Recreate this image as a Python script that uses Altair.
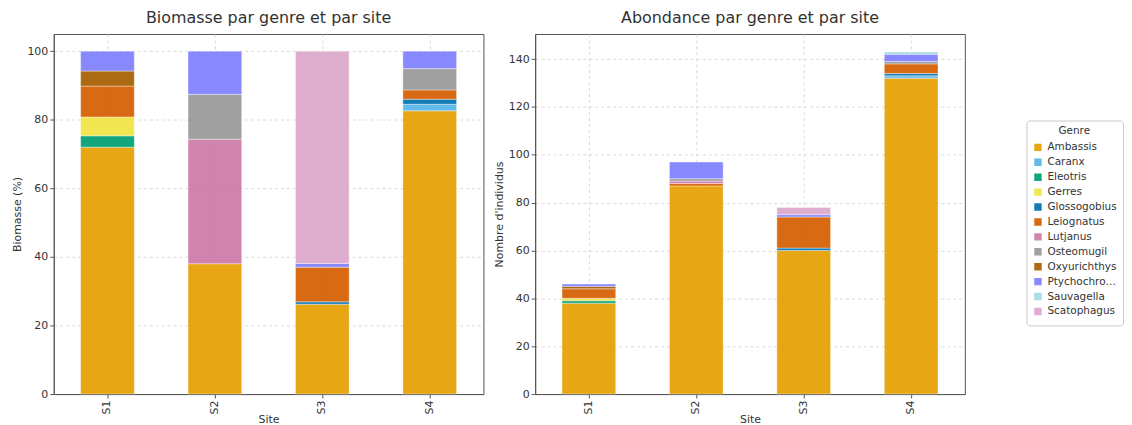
import altair as alt
import pandas as pd

sites = ["S1", "S2", "S3", "S4"]
genres = ["Ambassis", "Caranx", "Eleotris", "Gerres", "Glossogobius", "Leiognatus",
          "Lutjanus", "Osteomugil", "Oxyurichthys", "Ptychochromis", "Sauvagella", "Scatophagus"]
colors = ["#E69F00", "#56B4E9", "#009E73", "#F0E442", "#0072B2", "#D55E00",
          "#CC79A7", "#999999", "#A65E00", "#7F7FFF", "#A3DAE8", "#DDA8CC"]

# Biomass (%) per genre, across S1..S4
bio_ambassis = [72.0, 38.0, 26.2, 82.6]
bio_caranx = [0, 0, 0, 1.9]
bio_eleotris = [3.3, 0, 0, 0]
bio_gerres = [5.5, 0, 0, 0]
bio_glossogobius = [0, 0, 0.7, 1.5]
bio_leiognatus = [9.0, 0, 10.1, 2.7]
bio_lutjanus = [0, 36.3, 0, 0]
bio_osteomugil = [0, 13.1, 0, 6.2]
bio_oxyurichthys = [4.4, 0, 0, 0]
bio_ptychochromis = [5.8, 12.6, 1.1, 5.1]
bio_sauvagella = [0, 0, 0, 0]
bio_scatophagus = [0, 0, 61.9, 0]

# Abundance (individuals) per genre, across S1..S4
ab_ambassis = [38, 87, 60, 132]
ab_caranx = [0, 0, 0, 1]
ab_eleotris = [1, 0, 0, 0]
ab_gerres = [1, 0, 0, 0]
ab_glossogobius = [0, 0, 1, 1]
ab_leiognatus = [4, 1, 13, 4]
ab_lutjanus = [0, 1, 0, 0]
ab_osteomugil = [0, 1, 0, 1]
ab_oxyurichthys = [1, 0, 0, 0]
ab_ptychochromis = [1, 7, 1, 3]
ab_sauvagella = [0, 0, 0, 1]
ab_scatophagus = [0, 0, 3, 0]

bio = [bio_ambassis, bio_caranx, bio_eleotris, bio_gerres, bio_glossogobius, bio_leiognatus,
       bio_lutjanus, bio_osteomugil, bio_oxyurichthys, bio_ptychochromis, bio_sauvagella, bio_scatophagus]
ab = [ab_ambassis, ab_caranx, ab_eleotris, ab_gerres, ab_glossogobius, ab_leiognatus,
      ab_lutjanus, ab_osteomugil, ab_oxyurichthys, ab_ptychochromis, ab_sauvagella, ab_scatophagus]

rows = []
for gi, g in enumerate(genres):
    for si, s in enumerate(sites):
        rows.append({"Site": s, "Genre": g, "order": gi, "bio": bio[gi][si], "ab": ab[gi][si]})
df = pd.DataFrame(rows)

color = alt.Color("Genre:N", scale=alt.Scale(domain=genres, range=colors),
                  legend=alt.Legend(title="Genre", orient="none", legendX=978, legendY=87,
                                    symbolType="square", titleAnchor="middle", labelLimit=72))

def panel(field, title, ytitle, domain):
    return alt.Chart(df[df[field] > 0], title=title).mark_bar(
        opacity=0.92, stroke="white", strokeWidth=0.4
    ).encode(
        x=alt.X("Site:N", sort=sites, title="Site",
                scale=alt.Scale(paddingInner=0.5, paddingOuter=0.25),
                axis=alt.Axis(labelAngle=270, labelAlign="right", labelBaseline="middle",
                              titlePadding=0, grid=True, bandPosition=0.5)),
        y=alt.Y(f"{field}:Q", stack="zero", title=ytitle,
                scale=alt.Scale(domain=domain, nice=False),
                axis=alt.Axis(values=list(range(0, int(domain[1]) + 1, 20)))),
        color=color,
        order=alt.Order("order:Q", sort="ascending"),
    ).properties(width=432, height=362)

left = panel("bio", "Biomasse par genre et par site", "Biomasse (%)", [0, 105])
right = panel("ab", "Abondance par genre et par site", "Nombre d'individus", [0, 150.5])

chart = alt.hconcat(left, right, spacing=8).resolve_scale(color="shared").properties(
    padding={"left": 3, "top": 0, "right": 0, "bottom": 0}
).configure(
    font="DejaVu Sans"
).configure_view(
    stroke="#555", strokeWidth=1
).configure_title(
    fontSize=16, fontWeight="normal", color="#333", offset=8
).configure_axis(
    labelFontSize=11, titleFontSize=11, labelColor="#333", titleColor="#333",
    titleFontWeight="normal", domainColor="#555", tickColor="#555", tickSize=4,
    gridColor="#d0d0d0", gridDash=[3, 3], gridWidth=0.8, labelPadding=2
).configure_legend(
    strokeColor="#ccc", padding=6, cornerRadius=3, labelFontSize=10.5, titleFontSize=10.5,
    titleFontWeight="normal", titleColor="#333", labelColor="#333", symbolSize=80,
    rowPadding=0, fillColor="white"
)

chart.save("out.html", embed_options={"renderer": "svg", "actions": False})
